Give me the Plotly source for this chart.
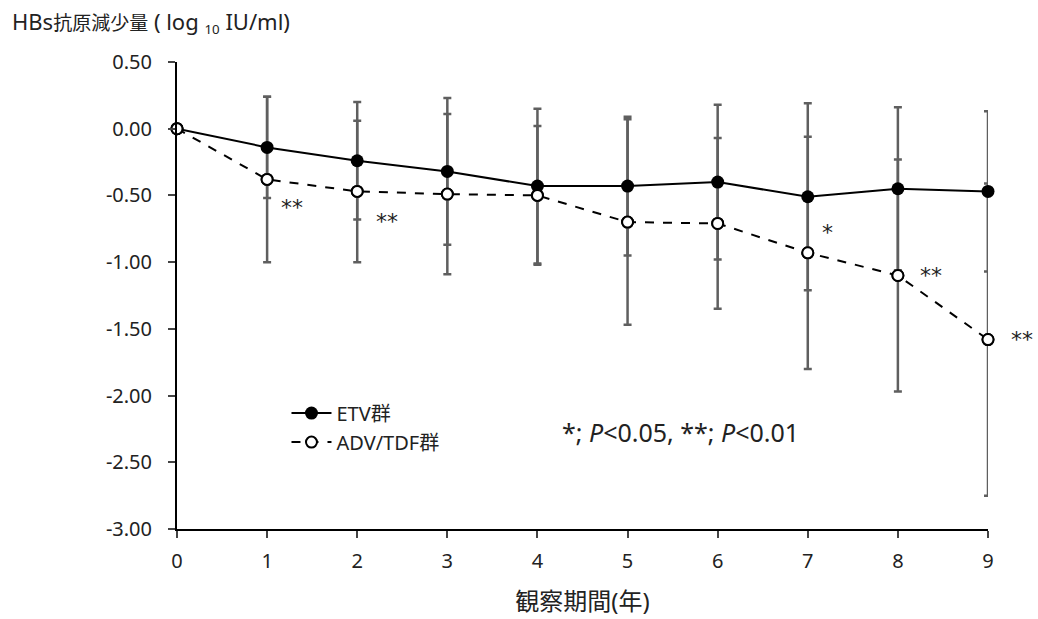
import plotly.graph_objects as go

years = [0, 1, 2, 3, 4, 5, 6, 7, 8, 9]
etv_mean = [0.00, -0.14, -0.24, -0.32, -0.43, -0.43, -0.40, -0.51, -0.45, -0.47]
etv_sd = [0.00, 0.38, 0.44, 0.55, 0.58, 0.52, 0.58, 0.70, 0.61, 0.60]
adv_mean = [0.00, -0.38, -0.47, -0.49, -0.50, -0.70, -0.71, -0.93, -1.10, -1.58]
adv_sd = [0.00, 0.62, 0.53, 0.60, 0.52, 0.77, 0.64, 0.87, 0.87, 1.17]
sig_years = [1, 2, 7, 8, 9]
sig_labels = ["**", "**", "*", "**", "**"]
sig_shift = [(25, -28), (30, -30), (20, 20), (33, 0), (34, 0)]

FONT = "Noto Sans, Noto Sans CJK JP, sans-serif"
GRAY = "#5f5f5f"

fig = go.Figure()
fig.add_trace(go.Scatter(
    x=years, y=adv_mean, name="ADV/TDF群", mode="lines+markers",
    line=dict(color="black", width=2, dash="dash"),
    marker=dict(symbol="circle", size=11, color="white", line=dict(color="black", width=2)),
    error_y=dict(type="data", array=adv_sd, visible=True, color=GRAY, thickness=2.5, width=4),
    cliponaxis=False, showlegend=True,
))
fig.add_trace(go.Scatter(
    x=years, y=etv_mean, name="ETV群", mode="lines+markers",
    line=dict(color="black", width=2),
    marker=dict(symbol="circle", size=13, color="black"),
    error_y=dict(type="data", array=etv_sd, visible=True, color=GRAY, thickness=2.5, width=4),
    cliponaxis=False,
))
fig.add_trace(go.Scatter(
    x=years, y=adv_mean, mode="markers", showlegend=False,
    marker=dict(symbol="circle", size=11, color="white", line=dict(color="black", width=2)),
    cliponaxis=False, hoverinfo="skip",
))

for yr, lab, (sx, sy) in zip(sig_years, sig_labels, sig_shift):
    fig.add_annotation(x=yr, y=adv_mean[years.index(yr)], text=lab, showarrow=False,
                       xshift=sx, yshift=sy,
                       font=dict(family="DejaVu Sans", size=22, color="#222"),
                       xanchor="center", yanchor="middle")

fig.add_annotation(x=4.25, y=-2.27, xref="x", yref="y",
                   text="*; <i>P</i>&lt;0.05, **; <i>P</i>&lt;0.01",
                   showarrow=False, xanchor="left", yanchor="middle",
                   font=dict(size=25, color="#222"))
fig.add_annotation(x=-0.206, y=1.086, xref="paper", yref="paper",
                   text=("<span style='font-size:22px'>HBs</span>抗原減少量"
                         "<span style='font-size:22px'> ( log </span><sub>10</sub>"
                         "<span style='font-size:22px'> IU/ml)</span>"),
                   showarrow=False, xanchor="left", yanchor="middle",
                   font=dict(size=19, color="#222"))

fig.update_layout(
    width=1038, height=619,
    margin=dict(l=177, r=50, t=62, b=90),
    plot_bgcolor="white", paper_bgcolor="white",
    font=dict(family=FONT, size=20, color="#222"),
    legend=dict(x=0.135, y=0.29, xanchor="left", yanchor="top", traceorder="reversed",
                bgcolor="rgba(0,0,0,0)", font=dict(size=20), itemwidth=40, tracegroupgap=0),
    xaxis=dict(range=[0, 9], tickmode="array", tickvals=years, ticks="outside", ticklen=7,
               tickwidth=2, showline=True, linecolor="black", linewidth=2, showgrid=False,
               zeroline=False, ticklabelstandoff=6, tickfont=dict(size=20), automargin=False,
               title=dict(text="観察期間(年)", font=dict(size=24), standoff=20)),
    yaxis=dict(range=[-3, 0.5], tickmode="array",
               tickvals=[0.5, 0, -0.5, -1, -1.5, -2, -2.5, -3],
               ticktext=["0.50", "0.00", "-0.50", "-1.00", "-1.50", "-2.00", "-2.50", "-3.00"],
               ticks="outside", ticklen=7, tickwidth=2, showline=True, linecolor="black",
               linewidth=2, showgrid=False, zeroline=False, ticklabelstandoff=12,
               tickfont=dict(size=20), automargin=False),
)
fig.write_html("out.html")
